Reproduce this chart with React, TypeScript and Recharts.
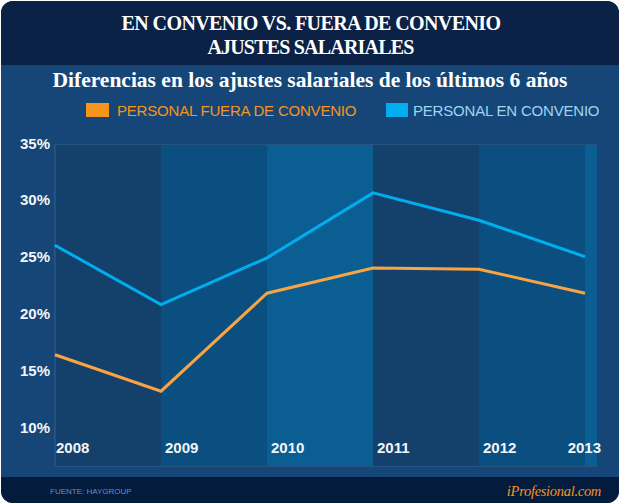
import React from 'react';
import { LineChart, Line, XAxis, YAxis, CartesianGrid, ReferenceArea } from 'recharts';

// Salary adjustments (%) by year
const years = [2008, 2009, 2010, 2011, 2012, 2013];
const fueraDeConvenio = [16.6, 13.4, 22.0, 24.2, 24.1, 22.0];
const enConvenio = [26.2, 21.0, 25.1, 30.8, 28.4, 25.2];

const yTicks = [10, 12.5, 15, 17.5, 20, 22.5, 25, 27.5, 30, 32.5, 35];
const labeledYTicks = [10, 15, 20, 25, 30, 35];

// Column band edges (in year units) and their fills
const bandEdges = [2008, 2009, 2010, 2011, 2012, 2013, 2013.113];
const bandFills = ['#13416b', '#0a4f7f', '#0b5e91', '#13416b', '#0a4f7f', '#0b5e91'];

const titleLines = ['EN CONVENIO VS. FUERA DE CONVENIO', 'AJUSTES SALARIALES'];
const subtitle = 'Diferencias en los ajustes salariales de los últimos 6 años';
const seriesNames = ['PERSONAL FUERA DE CONVENIO', 'PERSONAL EN CONVENIO'];
const source = 'FUENTE: HAYGROUP';
const brand = 'iProfesional.com';

const ORANGE = '#f7941d';
const ORANGE_LINE = '#f8a443';
const BLUE = '#00aeef';

const data = years.map((year, i) => ({
  year,
  fuera: fueraDeConvenio[i],
  en: enConvenio[i],
}));

const Y_MIN = 6.84;
const Y_MAX = 35;

const sans = "'Liberation Sans', Arial, Helvetica, sans-serif";
const serif = "'Liberation Serif', 'Times New Roman', serif";

const YTick = (props: any) => {
  const { x, y, payload } = props;
  if (!labeledYTicks.includes(payload.value)) return null;
  return (
    <text x={x} y={y + 3.5} textAnchor="end" fill="#f3f5f9" fontFamily={sans} fontWeight="bold" fontSize={15}>
      {`${payload.value}%`}
    </text>
  );
};

const XTick = (props: any) => {
  const { x, y, payload, index } = props;
  const last = index === years.length - 1;
  const offset = index === 0 ? 1 : last ? 16 : 4;
  return (
    <text
      x={x + offset}
      y={y - 13}
      textAnchor={last ? 'end' : 'start'}
      fill="#f3f5f9"
      fontFamily={sans}
      fontWeight="bold"
      fontSize={15}
    >
      {payload.value}
    </text>
  );
};

const Frame = () => (
  <svg width={620} height={504} style={{ position: 'absolute', left: 0, top: 0 }}>
    <defs>
      <clipPath id="frameClip">
        <rect x={1} y={1} width={618} height={502} rx={12} ry={12} />
      </clipPath>
    </defs>
    <rect x={0} y={0} width={620} height={504} fill="#ffffff" />
    <g clipPath="url(#frameClip)">
      <rect x={0} y={0} width={620} height={504} fill="#164677" />
      <rect x={0} y={0} width={620} height={65} fill="#0b2145" />
      <rect x={0} y={477} width={620} height={27} fill="#031b3d" />
    </g>
    <text x={311} y={30} textAnchor="middle" fill="#ffffff" fontFamily={serif} fontWeight="bold" fontSize={20} letterSpacing={-0.6}>
      {titleLines[0]}
    </text>
    <text x={310.5} y={54} textAnchor="middle" fill="#ffffff" fontFamily={serif} fontWeight="bold" fontSize={20} letterSpacing={-0.8}>
      {titleLines[1]}
    </text>
    <text x={310} y={87} textAnchor="middle" fill="#ffffff" fontFamily={serif} fontWeight="bold" fontSize={21.5}>
      {subtitle}
    </text>
    <rect x={86} y={103} width={23} height={14} fill={ORANGE} />
    <text x={117} y={116} fill={ORANGE} fontFamily={sans} fontSize={15} letterSpacing={-0.2}>
      {seriesNames[0]}
    </text>
    <rect x={386} y={103} width={22} height={14} fill={BLUE} />
    <text x={413} y={116} fill="#9ed5f3" fontFamily={sans} fontSize={15} letterSpacing={-0.2}>
      {seriesNames[1]}
    </text>
    <text x={50} y={494} fill="#6a8fbf" fontFamily={sans} fontSize={8}>
      {source}
    </text>
    <text x={601} y={496} textAnchor="end" fill={ORANGE} fontFamily={serif} fontStyle="italic" fontSize={14.5} letterSpacing={-0.3}>
      {brand}
    </text>
  </svg>
);

export default function App() {
  return (
    <div style={{ position: 'absolute', left: 0, top: 0, width: 620, height: 504 }}>
      <Frame />
      <div style={{ position: 'absolute', left: 0, top: 0 }}>
        <LineChart width={620} height={504} data={data} margin={{ top: 145, right: 23, bottom: 0, left: 0 }}>
          {bandFills.map((fill, i) => (
            <ReferenceArea
              key={i}
              x1={bandEdges[i]}
              x2={bandEdges[i + 1]}
              y1={Y_MIN}
              y2={Y_MAX}
              fill={fill}
              fillOpacity={1}
              stroke="none"
              ifOverflow="visible"
            />
          ))}
          <CartesianGrid vertical={false} stroke="#ffffff" strokeOpacity={0.15} />
          <XAxis
            dataKey="year"
            type="number"
            domain={[bandEdges[0], bandEdges[bandEdges.length - 1]]}
            ticks={years}
            interval={0}
            height={38}
            axisLine={false}
            tickLine={false}
            tickSize={0}
            tickMargin={0}
            tick={<XTick />}
          />
          <YAxis
            type="number"
            domain={[Y_MIN, Y_MAX]}
            ticks={yTicks}
            interval={0}
            width={55}
            axisLine={{ stroke: '#ffffff', strokeOpacity: 0.15 }}
            tickLine={false}
            tickSize={0}
            tickMargin={5}
            tick={<YTick />}
          />
          <Line
            dataKey="fuera"
            stroke={ORANGE_LINE}
            strokeWidth={3}
            dot={false}
            activeDot={false}
            isAnimationActive={false}
          />
          <Line
            dataKey="en"
            stroke={BLUE}
            strokeWidth={3}
            dot={false}
            activeDot={false}
            isAnimationActive={false}
          />
        </LineChart>
      </div>
    </div>
  );
}
